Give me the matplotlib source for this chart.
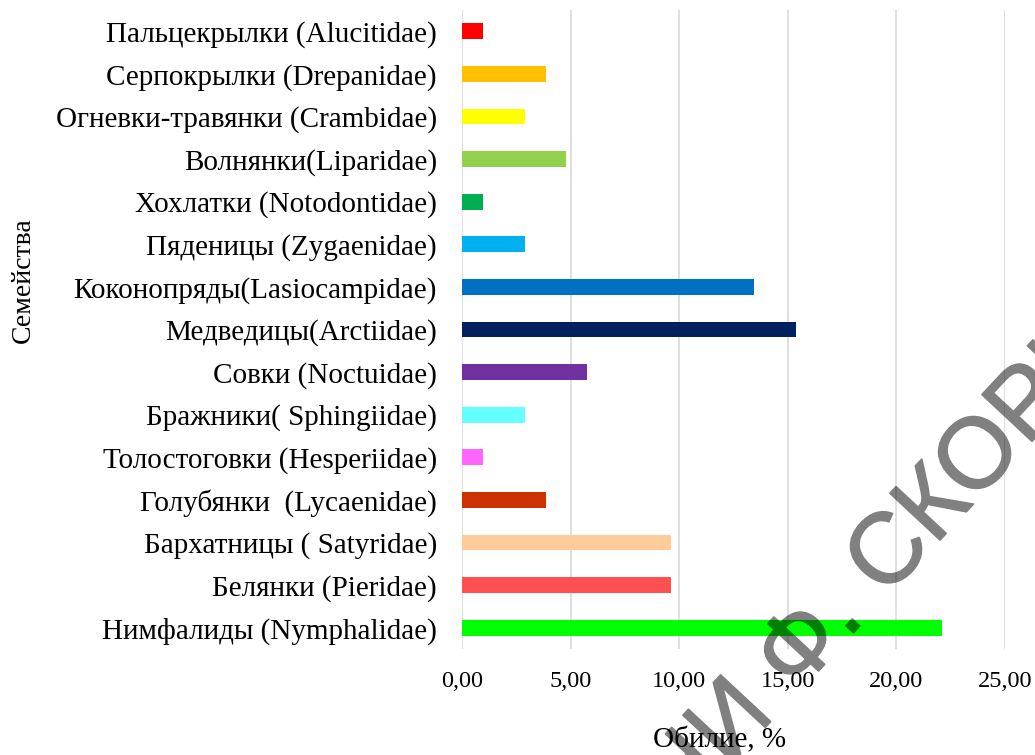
#! /usr/bin/env python3

from matplotlib import pyplot as plt
from matplotlib.font_manager import FontProperties
from matplotlib.patches import PathPatch
from matplotlib.textpath import TextPath
from matplotlib.transforms import Affine2D, IdentityTransform
from matplotlib.ticker import FuncFormatter

# Lepidoptera families, listed bottom to top
families = [
    "Нимфалиды (Nymphalidae)",
    "Белянки (Pieridae)",
    "Бархатницы ( Satyridae)",
    "Голубянки  (Lycaenidae)",
    "Толостоговки (Hesperiidae)",
    "Бражники( Sphingiidae)",
    "Совки (Noctuidae)",
    "Медведицы(Arctiidae)",
    "Коконопряды(Lasiocampidae)",
    "Пяденицы (Zygaenidae)",
    "Хохлатки (Notodontidae)",
    "Волнянки(Liparidae)",
    "Огневки-травянки (Crambidae)",
    "Серпокрылки (Drepanidae)",
    "Пальцекрылки (Alucitidae)",
]
abundance = [22.12, 9.62, 9.62, 3.85, 0.96, 2.88, 5.77, 15.38, 13.46,
             2.88, 0.96, 4.81, 2.88, 3.85, 0.96]
bar_colors = ["#00ff00", "#ff5050", "#ffcc99", "#cc3300", "#ff66ff",
              "#66ffff", "#7030a0", "#002060", "#0070c0", "#00b0f0",
              "#00b050", "#92d050", "#ffff00", "#ffc000", "#ff0000"]
x_ticks = [0, 5, 10, 15, 20, 25]

W, H = 1035, 755


def half_alpha(img, dpi):
    # render the stamp opaque, then fade it as a whole so strokes don't double up
    img = img.copy()
    img[..., 3] *= 0.5
    return img, 0, 0


def main():
    plt.rcParams["font.family"] = ["Liberation Serif", "DejaVu Serif"]

    fig = plt.figure(figsize=(W / 100, H / 100), dpi=100)
    ax = fig.add_axes([462 / W, 1 - 649 / H, 543 / W, 639 / H])

    ypos = range(len(families))
    ax.barh(ypos, abundance, height=0.375, color=bar_colors, zorder=2)

    ax.set_xlim(0, 25)
    ax.set_ylim(-0.5, len(families) - 0.5)
    ax.set_xticks(x_ticks)
    ax.xaxis.set_major_formatter(FuncFormatter(lambda v, _: f"{v:.2f}".replace(".", ",")))
    ax.set_yticks(list(ypos))
    ax.set_yticklabels(families)
    ax.tick_params(axis="both", length=0, colors="black")
    ax.tick_params(axis="y", pad=18, labelsize=21)
    ax.tick_params(axis="x", pad=16, labelsize=17.5)
    ax.grid(axis="x", color="#d9d9d9", linewidth=1.2, zorder=0)
    ax.set_axisbelow(True)
    for s in ax.spines.values():
        s.set_visible(False)

    ax.set_xlabel("Обилие, %", fontsize=21)
    ax.xaxis.set_label_coords(0.475, -0.122)
    ax.set_ylabel("Семейства", fontsize=20)
    ax.yaxis.set_label_coords(-0.785, 0.577)

    # diagonal repository stamp across the lower right corner
    text = "РЕПОЗИТОРИЙ ГГУ ИМЕНИ Ф. СКОРИНЫ"
    prop = FontProperties(family="Liberation Sans")
    size = 100
    path = TextPath((0, 0), text, size=size, prop=prop)
    dot_end = TextPath((0, 0), "РЕПОЗИТОРИЙ ГГУ ИМЕНИ Ф.", size=size, prop=prop).get_extents().x1
    tr = Affine2D().translate(-dot_end, 0).rotate_deg(47).translate(860, H - 626)
    stamp = PathPatch(tr.transform_path(path), facecolor="black", edgecolor="black",
                      linewidth=1.0, transform=IdentityTransform())
    stamp.set_agg_filter(half_alpha)
    fig.add_artist(stamp)

    fig.savefig("out.png", dpi=100)


if __name__ == "__main__":
    main()
